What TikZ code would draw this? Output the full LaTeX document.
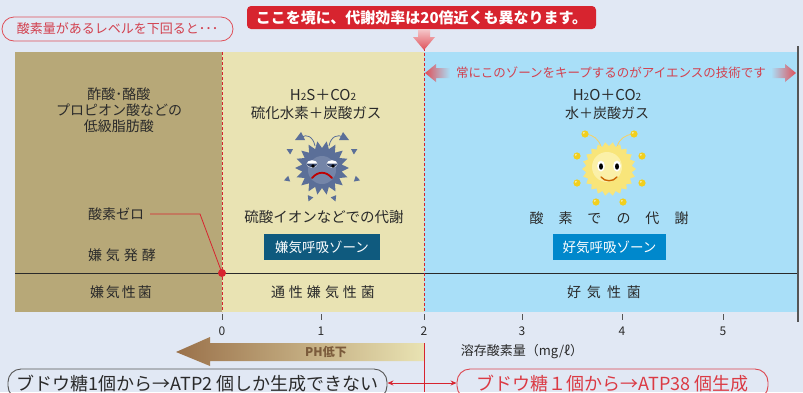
\documentclass[tikz,border=0pt]{standalone}
\usepackage{fontspec}
\setmainfont{Noto Sans CJK JP}
\usetikzlibrary{arrows.meta,calc}

\definecolor{bg}{HTML}{E1E8F4}
\definecolor{anaer}{HTML}{B7A878}
\definecolor{facult}{HTML}{E9E3B3}
\definecolor{aerob}{HTML}{A9DFF8}
\definecolor{ink}{HTML}{2A2A2A}
\definecolor{alert}{HTML}{D7242F}
\definecolor{alerttext}{HTML}{D2404E}
\definecolor{zoneA}{HTML}{0F5A7E}
\definecolor{zoneB}{HTML}{0088CC}
\definecolor{germ}{HTML}{5B6F98}
\definecolor{germdark}{HTML}{3E4F75}
\definecolor{sunny}{HTML}{F8E57A}
\definecolor{sunlight}{HTML}{FBF0A8}
\definecolor{dot}{HTML}{F2CF1E}
\definecolor{brownarrow}{HTML}{9A714A}
\definecolor{axis}{HTML}{555555}

\newcommand{\fs}[1]{\fontsize{#1}{#1}\selectfont}
\newcommand{\kgap}[1]{\hspace{#1pt}}

\begin{document}
\begin{tikzpicture}[x=1pt,y=-1pt,
  txt/.style={text=ink, inner sep=0pt, font=\fs{14}},
  zonebox/.style={text=white, inner sep=0pt, minimum width=#1, minimum height=26pt, font=\fs{13.5}},
  ticklbl/.style={text=ink, inner sep=0pt, font=\fs{12}},
  redline/.style={draw=alert, line width=0.8pt}
]
\clip (0,0) rectangle (803,392);
\fill[bg] (0,0) rectangle (803,392);

% ---- zones ----
\fill[anaer]  (15,52)  rectangle (222,312);
\fill[facult] (222,52) rectangle (424,312);
\fill[aerob]  (424,52) rectangle (797,312);
\draw[ink, line width=0.9pt] (15,273) -- (797,273);
\draw[alert, line width=0.8pt, dash pattern=on 3pt off 2pt] (222,52) -- (222,312);
\draw[alert, line width=0.8pt, dash pattern=on 3pt off 2pt] (424,48) -- (424,312);
\draw[axis, line width=1.4pt] (798,46) -- (798,322);

% ---- headline labels ----
\node[draw=alert!80, line width=0.8pt, rounded corners=12pt, minimum width=231pt, minimum height=24pt,
      inner sep=0pt, text=alerttext, font=\fs{13}] (cond) at (117.5,29) {酸素量があるレベルを下回ると･･･};
\node[fill=alert, rounded corners=4pt, minimum width=349pt, minimum height=23pt, inner sep=0pt,
      text=white, font=\fs{15}\bfseries] (banner) at (421.5,17.5) {ここを境に、代謝効率は20倍近くも異なります。};

% down arrow onto the boundary
\shade[top color=alert!25!white, bottom color=alert!80!white]
  (418,29) -- (430,29) -- (430,37) -- (435,37) -- (424,50) -- (413,37) -- (418,37) -- cycle;

% keep-zone arrows
\shade[left color=alert!80!white, right color=aerob]
  (425,73) -- (436,64) -- (436,68) -- (450,68) -- (450,78) -- (436,78) -- (436,82) -- cycle;
\shade[left color=aerob, right color=alert!80!white]
  (796,73) -- (785,64) -- (785,68) -- (771,68) -- (771,78) -- (785,78) -- (785,82) -- cycle;
\node[text=alerttext, inner sep=0pt, font=\fs{12.5}] (keep) at (611,73) {常にこのゾーンをキープするのがアイエンスの技術です};

% ---- anaerobic fermentation zone ----
\node[txt, align=center] (acids) at (119,110) {酢酸･酪酸\\[2pt]プロピオン酸などの\\[2pt]低級脂肪酸};
\node[txt] (zero) at (116,214) {酸素ゼロ};
\node[txt] (ferment) at (122,255) {嫌\kgap{4}気\kgap{4}発\kgap{4}酵};
\node[txt] (anbact) at (121,292) {嫌\kgap{2}気\kgap{2}性\kgap{2}菌};
\coordinate (zerobend) at (200,214);
\fill[alert] (222,273) circle (4) coordinate (zeropt);
\draw[redline] (zero.east) ++(6,0) -- (zerobend) -- (zeropt);

% ---- anaerobic respiration zone ----
\node[txt, font=\fs{15}] (h2s) at (323,95) {H\raisebox{-0.5pt}{\fs{10}2}S＋CO\raisebox{-0.5pt}{\fs{10}2}};
\node[txt, font=\fs{14.5}] (h2sjp) at (316,113) {硫化水素＋炭酸ガス};
\node[txt, font=\fs{14.5}] (sulf) at (324,217) {硫酸イオンなどでの代謝};
\node[zonebox=116pt, fill=zoneA] (zoneanr) at (322,247) {嫌気呼吸ゾーン};
\node[txt] (facbact) at (323,292) {通\kgap{4}性\kgap{4}嫌\kgap{4}気\kgap{4}性\kgap{4}菌};

% grumpy germ
\begin{scope}[shift={(322,168)}]
  \draw[germ, line width=0.8pt] (-7,-22) .. controls (-9,-32) and (-16,-34) .. (-20,-31);
  \draw[germ, line width=0.8pt] (7,-22) .. controls (9,-32) and (16,-34) .. (21,-31);
  \fill[germ] (-27,-28) -- (-21,-36) -- (-17,-28) -- cycle;
  \fill[germ] (27,-28) -- (21,-36) -- (17,-28) -- cycle;
  \foreach \a/\r in {208/37, 332/37, 162/37, 18/37, 112/33, 68/33}
    \fill[germ, shift={(\a:\r)}, rotate=-\a] (3,0) -- (-2.5,3) -- (-2.5,-3) -- cycle;
  \fill[germ] (0:27) \foreach \i in {1,...,18} { -- (\i*20-10:20) -- (\i*20:27) } -- cycle;
  \fill[germ!85!white] (0,2) circle (14);
  % drowsy eyes
  \fill[white] (-10,-4) ellipse (5.5 and 3.8);
  \fill[white] (10,-4) ellipse (5.5 and 3.8);
  \fill[germdark] (-10,-4.5) -- (-15.5,-4.5) arc (180:0:5.5 and 3.8) -- cycle;
  \fill[germdark] (10,-4.5) -- (4.5,-4.5) arc (180:0:5.5 and 3.8) -- cycle;
  \fill[black] (-9,-2) circle (1.8);
  \fill[black] (11,-2) circle (1.8);
  % frown
  \draw[red!75!black, line width=1.8pt, line cap=round] (-10,10) .. controls (-4,3) and (4,3) .. (10,10);
\end{scope}

% ---- aerobic zone ----
\node[txt, font=\fs{15}] (h2o) at (607,95) {H\raisebox{-0.5pt}{\fs{10}2}O＋CO\raisebox{-0.5pt}{\fs{10}2}};
\node[txt] (h2ojp) at (607,113) {水＋炭酸ガス};
\node[txt] (oxy) at (609,218) {酸\kgap{15}素\kgap{15}で\kgap{15}の\kgap{15}代\kgap{15}謝};
\node[zonebox=113pt, fill=zoneB] (zoneaer) at (609.5,247) {好気呼吸ゾーン};
\node[txt] (aerbact) at (604,292) {好\kgap{6}気\kgap{6}性\kgap{6}菌};

% cheerful sun
\begin{scope}[shift={(609,169)}]
  \draw[sunny!80!orange, line width=0.8pt] (-8,-22) .. controls (-10,-30) and (-16,-34) .. (-23,-35);
  \draw[sunny!80!orange, line width=0.8pt] (8,-22) .. controls (10,-30) and (16,-34) .. (24,-35);
  \foreach \p in {(-24,-35),(25,-35),(-32,-13),(33,-13),(-32,14),(33,14),(-13,33),(14,33)} {
    \fill[dot] \p circle (3.6);
    \fill[white, opacity=0.6] \p ++(-1.2,-1.2) circle (1.1);
  }
  \fill[sunny] (0:27) \foreach \i in {1,...,22} { -- (\i*360/22-360/44:23) -- (\i*360/22:27) } -- cycle;
  \fill[sunlight] (-2,-2) circle (15);
  \fill[white] (-8,-3) ellipse (3.8 and 5.5);
  \fill[white] (8,-3) ellipse (3.8 and 5.5);
  \fill[black] (-8,-2.5) ellipse (2 and 3.2);
  \fill[black] (8,-2.5) ellipse (2 and 3.2);
  \draw[orange!80!black, line width=1.4pt, line cap=round] (-8,8) .. controls (-4,13) and (4,13) .. (8,8);
\end{scope}

% ---- oxygen axis ----
\foreach \x/\v/\nm in {222/0/t0, 321/1/t1, 424/2/t2, 522/3/t3, 622/4/t4, 723/5/t5} {
  \draw[axis, line width=0.8pt] (\x,314) -- (\x,320);
  \node[ticklbl] (\nm) at (\x,331) {\v};
}
\node[txt, font=\fs{13}] (axislbl) at (522,352) {溶存酸素量（mg/ℓ）};

% pH drop arrow
\shade[left color=brownarrow, right color=facult]
  (176,352) -- (210,337) -- (210,343) -- (424,343) -- (424,361) -- (210,361) -- (210,366) -- cycle;
\node[text=brownarrow!80!black, inner sep=0pt, font=\fs{12}\bfseries] (ph) at (326,352) {PH低下};

% ---- ATP yield ----
\node[draw=axis, line width=0.9pt, rounded corners=13pt, minimum width=379pt, minimum height=30pt,
      inner sep=0pt, text=ink, font=\fs{18}] (lowyield) at (197.5,384) {\raisebox{-1pt}{ブドウ糖1個から→ATP2 個しか生成できない}};
\node[draw=alert!85!white, line width=0.9pt, rounded corners=13pt, minimum width=311pt, minimum height=30pt,
      inner sep=0pt, text=alert!90!white, font=\fs{18}] (highyield) at (612.5,384) {\raisebox{-1pt}{ブドウ糖１個から→ATP38 個生成}};
\coordinate (split) at (424,383);
\draw[redline] (424,343) -- (424,392);
\draw[redline, -{Stealth[length=6pt,width=5pt]}] (split) -- (lowyield.east |- split);
\draw[redline, -{Stealth[length=6pt,width=5pt]}] (split) -- (highyield.west |- split);
\end{tikzpicture}
\end{document}
